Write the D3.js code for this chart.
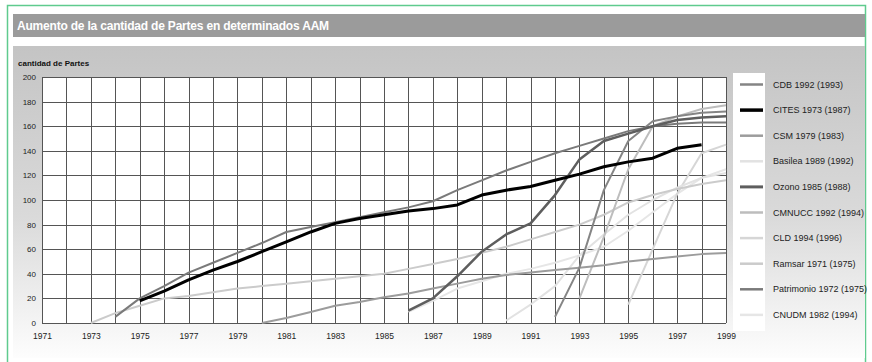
<!DOCTYPE html>
<html>
<head>
<meta charset="utf-8">
<script src="https://cdn.jsdelivr.net/npm/d3@7"></script>
<style>
  body { margin: 0; background: #fff; }
  svg text { font-family: "Liberation Sans", Arial, sans-serif; }
</style>
</head>
<body>
<div id="chart"></div>
<script>
// years shared by all series (null = no data that year)
const years = [1973, 1974, 1975, 1976, 1977, 1978, 1979, 1980, 1981, 1982, 1983, 1984, 1985, 1986,
               1987, 1988, 1989, 1990, 1991, 1992, 1993, 1994, 1995, 1996, 1997, 1998, 1999];

const cdb        = [null, null, null, null, null, null, null, null, null, null, null, null, null, null,
                    null, null, null, null, null, 5, 45, 108, 148, 164, 168, 171, 172];
const cites      = [null, null, 18, 26, 35, 43, 50, 58, 66, 74, 81, 85, 88, 91,
                    93, 96, 104, 108, 111, 116, 121, 127, 131, 134, 142, 145, null];
const csm        = [null, null, null, null, null, null, null, 0, 4, 9, 14, 17, 21, 24,
                    28, 32, 36, 39, 41, 43, 45, 47, 50, 52, 54, 56, 57];
const basilea    = [null, null, null, null, null, null, null, null, null, null, null, null, null, null,
                    null, null, null, 2, 15, 30, 55, 72, 88, 100, 110, 118, 122];
const ozono      = [null, null, null, null, null, null, null, null, null, null, null, null, null, 10,
                    20, 38, 58, 72, 81, 104, 133, 148, 154, 160, 165, 167, 168];
const cmnucc     = [null, null, null, null, null, null, null, null, null, null, null, null, null, null,
                    null, null, null, null, null, null, 20, 70, 125, 160, 168, 174, 177];
const cld        = [null, null, null, null, null, null, null, null, null, null, null, null, null, null,
                    null, null, null, null, null, null, null, null, 15, 60, 105, 138, 145];
const ramsar     = [0, 8, 14, 20, 22, 25, 28, 30, 32, 34, 36, 38, 40, 44,
                    48, 52, 57, 62, 68, 74, 80, 88, 98, 104, 109, 113, 116];
const patrimonio = [null, 5, 20, 30, 41, 49, 57, 65, 74, 78, 82, 86, 90, 94,
                    99, 108, 116, 124, 131, 138, 144, 150, 156, 160, 162, 163, 163];
const cnudm      = [null, null, null, null, null, null, null, null, null, null, null, null, null, 9,
                    18, 28, 34, 40, 44, 49, 55, 62, 75, 90, 105, 118, 125];

const seriesNames = ["CDB 1992 (1993)", "CITES 1973 (1987)", "CSM 1979 (1983)", "Basilea 1989 (1992)",
                     "Ozono 1985 (1988)", "CMNUCC 1992 (1994)", "CLD 1994 (1996)", "Ramsar 1971 (1975)",
                     "Patrimonio 1972 (1975)", "CNUDM 1982 (1994)"];
const seriesValues = [cdb, cites, csm, basilea, ozono, cmnucc, cld, ramsar, patrimonio, cnudm];
const seriesColors = ["#858585", "#000000", "#9c9c9c", "#e2e2e2", "#5e5e5e",
                      "#bdbdbd", "#d6d6d6", "#cbcbcb", "#7a7a7a", "#e6e6e6"];
const seriesWidths = [2, 3, 2, 2, 2.5, 2, 2, 2, 2, 2];

const yTicks = d3.range(0, 201, 20);
const xGrid = d3.range(1971, 2000, 1);
const xLabels = d3.range(1971, 2000, 2);

const W = 872, H = 362;
const svg = d3.select("#chart").append("svg")
    .attr("width", W).attr("height", H);

const defs = svg.append("defs");
const grad = defs.append("linearGradient")
    .attr("id", "panelGrad").attr("x1", 0).attr("y1", 0).attr("x2", 0).attr("y2", 1);
grad.append("stop").attr("offset", "0%").attr("stop-color", "#c4c4c4");
grad.append("stop").attr("offset", "55%").attr("stop-color", "#dadada");
grad.append("stop").attr("offset", "100%").attr("stop-color", "#fdfdfd");

// frame, title bar, panel
svg.append("rect").attr("x", 7.5).attr("y", 5.5).attr("width", 858).attr("height", 362)
    .attr("fill", "#fff").attr("stroke", "#5fcb8e").attr("stroke-width", 1.5);
svg.append("rect").attr("x", 13).attr("y", 14).attr("width", 852).attr("height", 23)
    .attr("fill", "#9b9b9b");
svg.append("text").attr("x", 17).attr("y", 30)
    .attr("fill", "#fff").attr("font-size", 12).attr("font-weight", "bold")
    .attr("letter-spacing", -0.2)
    .text("Aumento de la cantidad de Partes en determinados AAM");
svg.append("rect").attr("x", 13).attr("y", 46).attr("width", 852).attr("height", 312)
    .attr("fill", "url(#panelGrad)");

svg.append("text").attr("x", 18).attr("y", 66)
    .attr("fill", "#111").attr("font-size", 8).attr("font-weight", "bold")
    .text("cantidad de Partes");

const x = d3.scaleLinear().domain([1971, 1999]).range([42, 726]);
const y = d3.scaleLinear().domain([0, 200]).range([323, 77]);

// plot background
svg.append("rect").attr("x", x(1971)).attr("y", y(200))
    .attr("width", x(1999) - x(1971)).attr("height", y(0) - y(200))
    .attr("fill", "#fff");

// grid
const grid = svg.append("g");
grid.selectAll("line.v").data(xGrid).join("line")
    .attr("class", "v")
    .attr("x1", d => Math.round(x(d)) + 0.5).attr("x2", d => Math.round(x(d)) + 0.5)
    .attr("y1", y(200)).attr("y2", y(0))
    .attr("stroke", "#555").attr("stroke-width", 1);
grid.selectAll("line.h").data(yTicks).join("line")
    .attr("class", "h")
    .attr("x1", x(1971)).attr("x2", x(1999))
    .attr("y1", d => Math.round(y(d)) + 0.5).attr("y2", d => Math.round(y(d)) + 0.5)
    .attr("stroke", "#555").attr("stroke-width", 1);

// axes labels
const yAxis = svg.append("g")
    .attr("transform", "translate(" + (x(1971) - 4) + ",0)")
    .call(d3.axisLeft(y).tickValues(yTicks).tickSize(0).tickPadding(2));
yAxis.select(".domain").remove();
yAxis.selectAll("text").attr("font-size", 8).attr("fill", "#222")
    .style("font-family", "'Liberation Sans', Arial, sans-serif");

const xAxis = svg.append("g")
    .attr("transform", "translate(0," + (y(0) + 6) + ")")
    .call(d3.axisBottom(x).tickValues(xLabels).tickFormat(d3.format("d")).tickSize(0).tickPadding(4));
xAxis.select(".domain").remove();
xAxis.selectAll("text").attr("font-size", 8.5).attr("fill", "#222")
    .style("font-family", "'Liberation Sans', Arial, sans-serif");

// lines
const line = d3.line()
    .defined(d => d[1] !== null)
    .x(d => x(d[0]))
    .y(d => y(d[1]));

const drawOrder = [9, 6, 3, 7, 5, 2, 8, 0, 4, 1];
svg.append("g").selectAll("path")
    .data(drawOrder)
    .join("path")
    .attr("d", i => line(years.map((yr, k) => [yr, seriesValues[i][k]])))
    .attr("fill", "none")
    .attr("stroke", i => seriesColors[i])
    .attr("stroke-width", i => seriesWidths[i])
    .attr("stroke-linejoin", "round");

// legend
svg.append("rect").attr("x", 733).attr("y", 73).attr("width", 32).attr("height", 258)
    .attr("fill", "#fff");
const legend = svg.append("g").selectAll("g")
    .data(seriesNames)
    .join("g")
    .attr("transform", (d, i) => "translate(0," + (84.5 + i * 25.6) + ")");
legend.append("line")
    .attr("x1", 740).attr("x2", 763)
    .attr("stroke", (d, i) => seriesColors[i])
    .attr("stroke-width", (d, i) => seriesWidths[i] + 0.5);
legend.append("text")
    .attr("x", 773).attr("y", 3)
    .attr("font-size", 9).attr("fill", "#222")
    .text(d => d);
</script>
</body>
</html>
